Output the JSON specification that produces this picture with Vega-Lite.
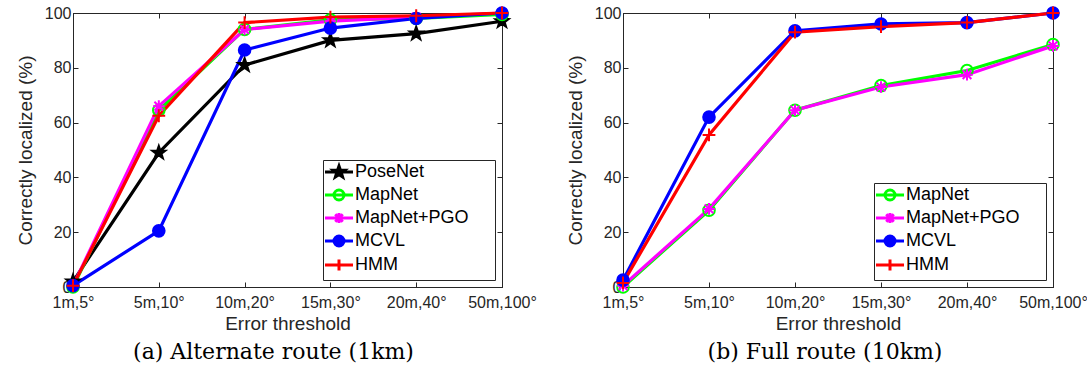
{
  "$schema": "https://vega.github.io/schema/vega-lite/v6.json",
  "background": "white",
  "padding": {"left": 15, "top": 2, "right": 4, "bottom": 2},
  "config": {
    "view": {"stroke": "#262626", "strokeWidth": 1},
    "font": "Liberation Sans",
    "axis": {
      "domainColor": "#262626", "tickColor": "#262626", "labelColor": "#262626", "titleColor": "#262626",
      "labelFont": "Liberation Sans", "titleFont": "Liberation Sans", "labelFontSize": 16, "titleFontSize": 19,
      "titleFontWeight": "normal", "grid": false, "tickSize": -5, "domainWidth": 1
    },
    "legend": {"labelFont": "Liberation Sans", "labelFontSize": 18, "labelColor": "#000000", "titleFontSize": 18},
    "title": {"font": "DejaVu Serif", "fontSize": 22, "fontWeight": "normal", "color": "#000000"}
  },
  "datasets": {
    "alt": [
      {"series": "PoseNet", "thr": "1m,5°", "val": 2},
      {"series": "PoseNet", "thr": "5m,10°", "val": 49},
      {"series": "PoseNet", "thr": "10m,20°", "val": 81},
      {"series": "PoseNet", "thr": "15m,30°", "val": 90},
      {"series": "PoseNet", "thr": "20m,40°", "val": 92.5},
      {"series": "PoseNet", "thr": "50m,100°", "val": 97},
      {"series": "MapNet", "thr": "1m,5°", "val": 0},
      {"series": "MapNet", "thr": "5m,10°", "val": 64.5},
      {"series": "MapNet", "thr": "10m,20°", "val": 94},
      {"series": "MapNet", "thr": "15m,30°", "val": 97.5},
      {"series": "MapNet", "thr": "20m,40°", "val": 98},
      {"series": "MapNet", "thr": "50m,100°", "val": 99.5},
      {"series": "MapNet+PGO", "thr": "1m,5°", "val": 0.5},
      {"series": "MapNet+PGO", "thr": "5m,10°", "val": 66},
      {"series": "MapNet+PGO", "thr": "10m,20°", "val": 94},
      {"series": "MapNet+PGO", "thr": "15m,30°", "val": 97},
      {"series": "MapNet+PGO", "thr": "20m,40°", "val": 98.5},
      {"series": "MapNet+PGO", "thr": "50m,100°", "val": 100},
      {"series": "MCVL", "thr": "1m,5°", "val": 0.5},
      {"series": "MCVL", "thr": "5m,10°", "val": 20.5},
      {"series": "MCVL", "thr": "10m,20°", "val": 86.5},
      {"series": "MCVL", "thr": "15m,30°", "val": 94.5},
      {"series": "MCVL", "thr": "20m,40°", "val": 98},
      {"series": "MCVL", "thr": "50m,100°", "val": 100},
      {"series": "HMM", "thr": "1m,5°", "val": 0.5},
      {"series": "HMM", "thr": "5m,10°", "val": 62.5},
      {"series": "HMM", "thr": "10m,20°", "val": 96.5},
      {"series": "HMM", "thr": "15m,30°", "val": 98.5},
      {"series": "HMM", "thr": "20m,40°", "val": 99},
      {"series": "HMM", "thr": "50m,100°", "val": 100}
    ],
    "full": [
      {"series": "MapNet", "thr": "1m,5°", "val": 0},
      {"series": "MapNet", "thr": "5m,10°", "val": 28},
      {"series": "MapNet", "thr": "10m,20°", "val": 64.5},
      {"series": "MapNet", "thr": "15m,30°", "val": 73.5},
      {"series": "MapNet", "thr": "20m,40°", "val": 79},
      {"series": "MapNet", "thr": "50m,100°", "val": 88.5},
      {"series": "MapNet+PGO", "thr": "1m,5°", "val": 0.5},
      {"series": "MapNet+PGO", "thr": "5m,10°", "val": 28.5},
      {"series": "MapNet+PGO", "thr": "10m,20°", "val": 64.5},
      {"series": "MapNet+PGO", "thr": "15m,30°", "val": 73},
      {"series": "MapNet+PGO", "thr": "20m,40°", "val": 77.5},
      {"series": "MapNet+PGO", "thr": "50m,100°", "val": 88},
      {"series": "MCVL", "thr": "1m,5°", "val": 2.5},
      {"series": "MCVL", "thr": "5m,10°", "val": 62},
      {"series": "MCVL", "thr": "10m,20°", "val": 93.5},
      {"series": "MCVL", "thr": "15m,30°", "val": 96},
      {"series": "MCVL", "thr": "20m,40°", "val": 96.5},
      {"series": "MCVL", "thr": "50m,100°", "val": 100},
      {"series": "HMM", "thr": "1m,5°", "val": 1.5},
      {"series": "HMM", "thr": "5m,10°", "val": 55.5},
      {"series": "HMM", "thr": "10m,20°", "val": 93},
      {"series": "HMM", "thr": "15m,30°", "val": 95},
      {"series": "HMM", "thr": "20m,40°", "val": 96.5},
      {"series": "HMM", "thr": "50m,100°", "val": 100}
    ]
  },
  "spacing": 28,
  "resolve": {"scale": {"color": "independent", "shape": "independent", "stroke": "independent", "fill": "independent"}, "legend": {"color": "independent", "shape": "independent", "stroke": "independent", "fill": "independent"}},
  "hconcat": [
    {
      "width": 429, "height": 274,
      "title": {"text": "(a) Alternate route (1km)", "orient": "bottom", "offset": 9, "dx": -14},
      "data": {"name": "alt"},
      "resolve": {"axis": {"x": "independent", "y": "independent"}, "scale": {"shape": "independent", "stroke": "independent", "fill": "independent"}},
      "layer": [
        {
          "mark": {"type": "line", "strokeWidth": 3.2},
          "encoding": {
            "x": {"field": "thr", "type": "ordinal", "sort": ["1m,5°", "5m,10°", "10m,20°", "15m,30°", "20m,40°", "50m,100°"], "scale": {"type": "point", "padding": 0},
              "axis": {"title": "Error threshold", "labelAngle": 0, "labelPadding": 12, "titlePadding": 4}},
            "y": {"field": "val", "type": "quantitative", "scale": {"domain": [0, 100], "nice": false},
              "axis": {"title": "Correctly localized (%)", "values": [0, 20, 40, 60, 80, 100], "labelPadding": 7, "titlePadding": 9}},
            "color": {"field": "series", "type": "nominal", "legend": null,
              "scale": {"domain": ["PoseNet", "MapNet", "MapNet+PGO", "MCVL", "HMM"], "range": ["#000000", "#00ff00", "#ff00ff", "#0000ff", "#ff0000"]}}
          }
        },
        {
          "mark": {"type": "point", "strokeWidth": 2, "opacity": 1, "size": 135},
          "encoding": {
            "x": {"field": "thr", "type": "ordinal", "sort": ["1m,5°", "5m,10°", "10m,20°", "15m,30°", "20m,40°", "50m,100°"], "scale": {"type": "point", "padding": 0},
              "axis": {"orient": "top", "labels": false, "title": null}},
            "y": {"field": "val", "type": "quantitative", "scale": {"domain": [0, 100], "nice": false},
              "axis": {"orient": "right", "labels": false, "title": null, "values": [0, 20, 40, 60, 80, 100]}},
            "shape": {"field": "series", "type": "nominal", "legend": null,
              "scale": {"domain": ["PoseNet", "MapNet", "MapNet+PGO", "MCVL", "HMM"], "range": ["M0,-1.2L0.28,-0.39L1.14,-0.37L0.46,0.15L0.71,0.97L0,0.48L-0.71,0.97L-0.46,0.15L-1.14,-0.37L-0.28,-0.39Z", "circle", "M0,-1V1M-1,0H1M-0.75,-0.75L0.75,0.75M-0.75,0.75L0.75,-0.75", "circle", "M0,-1.1V1.1M-1.1,0H1.1"]}},
            "stroke": {"field": "series", "type": "nominal", "legend": null,
              "scale": {"domain": ["PoseNet", "MapNet", "MapNet+PGO", "MCVL", "HMM"], "range": ["#000000", "#00ff00", "#ff00ff", "#0000ff", "#ff0000"]}},
            "fill": {"field": "series", "type": "nominal", "legend": null,
              "scale": {"domain": ["PoseNet", "MapNet", "MapNet+PGO", "MCVL", "HMM"], "range": ["#000000", "transparent", "#ff00ff", "#0000ff", "#ff0000"]}}
          }
        },
        {
          "transform": [{"filter": "false"}],
          "mark": {"type": "point", "strokeWidth": 3, "opacity": 1},
          "encoding": {
            "shape": {"field": "series", "type": "nominal",
              "scale": {"domain": ["PoseNet", "MapNet", "MapNet+PGO", "MCVL", "HMM"], "range": ["M-2.8,0H2.8M0,-1.2L0.28,-0.39L1.14,-0.37L0.46,0.15L0.71,0.97L0,0.48L-0.71,0.97L-0.46,0.15L-1.14,-0.37L-0.28,-0.39Z", "M-2.8,0H2.8M-1,0A1,1 0 1,0 1,0A1,1 0 1,0 -1,0Z", "M-2.8,0H2.8M0,-1V1M-0.75,-0.75L0.75,0.75M-0.75,0.75L0.75,-0.75", "M-2.8,0H2.8M-1,0A1,1 0 1,0 1,0A1,1 0 1,0 -1,0Z", "M-2.8,0H2.8M0,-1.1V1.1"]},
              "legend": {"title": " ", "titleOrient": "right", "titlePadding": 23, "orient": "bottom-right", "offset": 7, "padding": 3, "strokeColor": "#262626", "fillColor": "white",
                "symbolSize": 100, "symbolOffset": 4, "labelOffset": 7, "rowPadding": 1, "symbolStrokeWidth": 3}},
            "stroke": {"field": "series", "type": "nominal",
              "scale": {"domain": ["PoseNet", "MapNet", "MapNet+PGO", "MCVL", "HMM"], "range": ["#000000", "#00ff00", "#ff00ff", "#0000ff", "#ff0000"]},
              "legend": {"title": " ", "titleOrient": "right", "titlePadding": 23, "orient": "bottom-right", "offset": 7, "padding": 3, "strokeColor": "#262626", "fillColor": "white",
                "symbolSize": 100, "symbolOffset": 4, "labelOffset": 7, "rowPadding": 1, "symbolStrokeWidth": 3}},
            "fill": {"field": "series", "type": "nominal",
              "scale": {"domain": ["PoseNet", "MapNet", "MapNet+PGO", "MCVL", "HMM"], "range": ["#000000", "transparent", "#ff00ff", "#0000ff", "#ff0000"]},
              "legend": {"title": " ", "titleOrient": "right", "titlePadding": 23, "orient": "bottom-right", "offset": 7, "padding": 3, "strokeColor": "#262626", "fillColor": "white",
                "symbolSize": 100, "symbolOffset": 4, "labelOffset": 7, "rowPadding": 1, "symbolStrokeWidth": 3}}
          }
        }
      ]
    },
    {
      "width": 430, "height": 274,
      "title": {"text": "(b) Full route (10km)", "orient": "bottom", "offset": 9, "dx": -13},
      "data": {"name": "full"},
      "resolve": {"axis": {"x": "independent", "y": "independent"}, "scale": {"shape": "independent", "stroke": "independent", "fill": "independent"}},
      "layer": [
        {
          "mark": {"type": "line", "strokeWidth": 3.2},
          "encoding": {
            "x": {"field": "thr", "type": "ordinal", "sort": ["1m,5°", "5m,10°", "10m,20°", "15m,30°", "20m,40°", "50m,100°"], "scale": {"type": "point", "padding": 0},
              "axis": {"title": "Error threshold", "labelAngle": 0, "labelPadding": 12, "titlePadding": 4}},
            "y": {"field": "val", "type": "quantitative", "scale": {"domain": [0, 100], "nice": false},
              "axis": {"title": "Correctly localized (%)", "values": [0, 20, 40, 60, 80, 100], "labelPadding": 7, "titlePadding": 9}},
            "color": {"field": "series", "type": "nominal", "legend": null,
              "scale": {"domain": ["MapNet", "MapNet+PGO", "MCVL", "HMM"], "range": ["#00ff00", "#ff00ff", "#0000ff", "#ff0000"]}}
          }
        },
        {
          "mark": {"type": "point", "strokeWidth": 2, "opacity": 1, "size": 135},
          "encoding": {
            "x": {"field": "thr", "type": "ordinal", "sort": ["1m,5°", "5m,10°", "10m,20°", "15m,30°", "20m,40°", "50m,100°"], "scale": {"type": "point", "padding": 0},
              "axis": {"orient": "top", "labels": false, "title": null}},
            "y": {"field": "val", "type": "quantitative", "scale": {"domain": [0, 100], "nice": false},
              "axis": {"orient": "right", "labels": false, "title": null, "values": [0, 20, 40, 60, 80, 100]}},
            "shape": {"field": "series", "type": "nominal", "legend": null,
              "scale": {"domain": ["MapNet", "MapNet+PGO", "MCVL", "HMM"], "range": ["circle", "M0,-1V1M-1,0H1M-0.75,-0.75L0.75,0.75M-0.75,0.75L0.75,-0.75", "circle", "M0,-1.1V1.1M-1.1,0H1.1"]}},
            "stroke": {"field": "series", "type": "nominal", "legend": null,
              "scale": {"domain": ["MapNet", "MapNet+PGO", "MCVL", "HMM"], "range": ["#00ff00", "#ff00ff", "#0000ff", "#ff0000"]}},
            "fill": {"field": "series", "type": "nominal", "legend": null,
              "scale": {"domain": ["MapNet", "MapNet+PGO", "MCVL", "HMM"], "range": ["transparent", "#ff00ff", "#0000ff", "#ff0000"]}}
          }
        },
        {
          "transform": [{"filter": "false"}],
          "mark": {"type": "point", "strokeWidth": 3, "opacity": 1},
          "encoding": {
            "shape": {"field": "series", "type": "nominal",
              "scale": {"domain": ["MapNet", "MapNet+PGO", "MCVL", "HMM"], "range": ["M-2.8,0H2.8M-1,0A1,1 0 1,0 1,0A1,1 0 1,0 -1,0Z", "M-2.8,0H2.8M0,-1V1M-0.75,-0.75L0.75,0.75M-0.75,0.75L0.75,-0.75", "M-2.8,0H2.8M-1,0A1,1 0 1,0 1,0A1,1 0 1,0 -1,0Z", "M-2.8,0H2.8M0,-1.1V1.1"]},
              "legend": {"title": " ", "titleOrient": "right", "titlePadding": 23, "orient": "bottom-right", "offset": 7, "padding": 3, "strokeColor": "#262626", "fillColor": "white",
                "symbolSize": 100, "symbolOffset": 4, "labelOffset": 7, "rowPadding": 1, "symbolStrokeWidth": 3}},
            "stroke": {"field": "series", "type": "nominal",
              "scale": {"domain": ["MapNet", "MapNet+PGO", "MCVL", "HMM"], "range": ["#00ff00", "#ff00ff", "#0000ff", "#ff0000"]},
              "legend": {"title": " ", "titleOrient": "right", "titlePadding": 23, "orient": "bottom-right", "offset": 7, "padding": 3, "strokeColor": "#262626", "fillColor": "white",
                "symbolSize": 100, "symbolOffset": 4, "labelOffset": 7, "rowPadding": 1, "symbolStrokeWidth": 3}},
            "fill": {"field": "series", "type": "nominal",
              "scale": {"domain": ["MapNet", "MapNet+PGO", "MCVL", "HMM"], "range": ["transparent", "#ff00ff", "#0000ff", "#ff0000"]},
              "legend": {"title": " ", "titleOrient": "right", "titlePadding": 23, "orient": "bottom-right", "offset": 7, "padding": 3, "strokeColor": "#262626", "fillColor": "white",
                "symbolSize": 100, "symbolOffset": 4, "labelOffset": 7, "rowPadding": 1, "symbolStrokeWidth": 3}}
          }
        }
      ]
    }
  ]
}
